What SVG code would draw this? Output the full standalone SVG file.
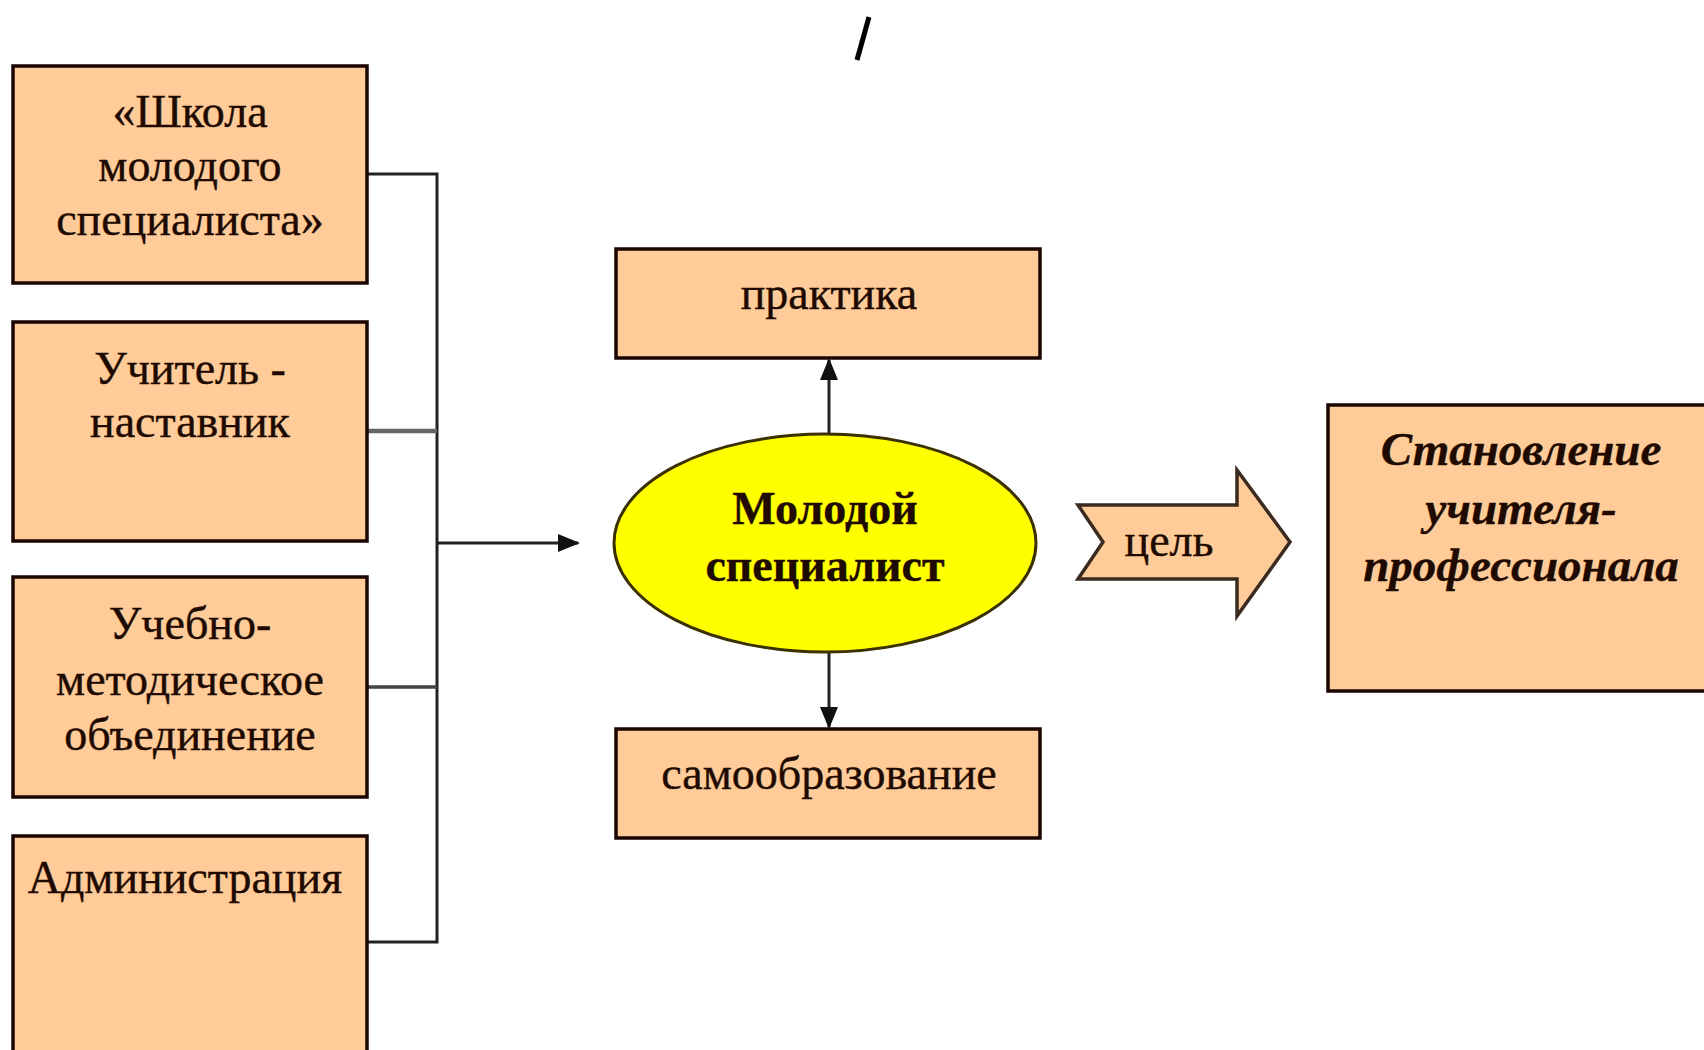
<svg xmlns="http://www.w3.org/2000/svg" width="1704" height="1050" viewBox="0 0 1704 1050">
<style>
.box{fill:#FFCC99;stroke:#1a0500;stroke-width:3.5}
.t{font-family:"Liberation Serif","Times New Roman",serif;font-size:46px;fill:#1e0a00;stroke:#1e0a00;stroke-width:0.4;text-anchor:middle}
.b{font-weight:bold}
.it{font-style:italic;font-weight:bold;font-size:47px}
.ln{fill:none;stroke:#222;stroke-width:3}
</style>
<defs>
<marker id="ah2" markerWidth="22" markerHeight="22" refX="20" refY="11" orient="auto" markerUnits="userSpaceOnUse" viewBox="0 0 22 22">
<path d="M0,2 L22,11 L0,20 z" fill="#111"/>
</marker>
</defs>
<rect width="1704" height="1050" fill="#fff"/>
<line x1="869" y1="17" x2="857" y2="60" stroke="#000" stroke-width="5"/>

<g id="connectors">
<path class="ln" d="M367,174 H437 V942 H367"/>
<path d="M367,431 H437" stroke="#666" stroke-width="4.5" fill="none"/>
<path d="M367,687 H437" stroke="#444" stroke-width="3.5" fill="none"/>
<path class="ln" d="M437,543 H578" marker-end="url(#ah2)"/>
<path class="ln" d="M829,435 V360" marker-end="url(#ah2)"/>
<path class="ln" d="M829,652 V727" marker-end="url(#ah2)"/>
</g>

<g id="n1"><rect class="box" x="13" y="66" width="354" height="217"/>
<text class="t" x="190" y="127">«Школа</text>
<text class="t" x="190" y="181">молодого</text>
<text class="t" x="190" y="235">специалиста»</text></g>

<g id="n2"><rect class="box" x="13" y="322" width="354" height="219"/>
<text class="t" x="190" y="384">Учитель -</text>
<text class="t" x="190" y="437">наставник</text></g>

<g id="n3"><rect class="box" x="13" y="577" width="354" height="220"/>
<text class="t" x="190" y="639">Учебно-</text>
<text class="t" x="190" y="695">методическое</text>
<text class="t" x="190" y="750">объединение</text></g>

<g id="n4"><rect class="box" x="13" y="836" width="354" height="230"/>
<text class="t" x="185" y="893">Администрация</text></g>

<g id="n5"><rect class="box" x="616" y="249" width="424" height="109"/>
<text class="t" x="829" y="309">практика</text></g>

<g id="n6"><ellipse cx="825" cy="543" rx="211" ry="109" fill="#FFFF00" stroke="#3a3000" stroke-width="3"/>
<text class="t b" x="825" y="524">Молодой</text>
<text class="t b" x="825" y="581">специалист</text></g>

<g id="n7"><rect class="box" x="616" y="729" width="424" height="109"/>
<text class="t" x="829" y="789">самообразование</text></g>

<g id="n8"><path d="M1078,505 H1237 V470 L1290,542 L1237,616 V579 H1078 L1103,542 Z" fill="#FFCC99" stroke="#3a2a20" stroke-width="3.5"/>
<text class="t" x="1169" y="556">цель</text></g>

<g id="n9"><rect class="box" x="1328" y="405" width="390" height="286"/>
<text class="t it" x="1521" y="465">Становление</text>
<text class="t it" x="1521" y="524">учителя-</text>
<text class="t it" x="1521" y="581">профессионала</text></g>
</svg>
